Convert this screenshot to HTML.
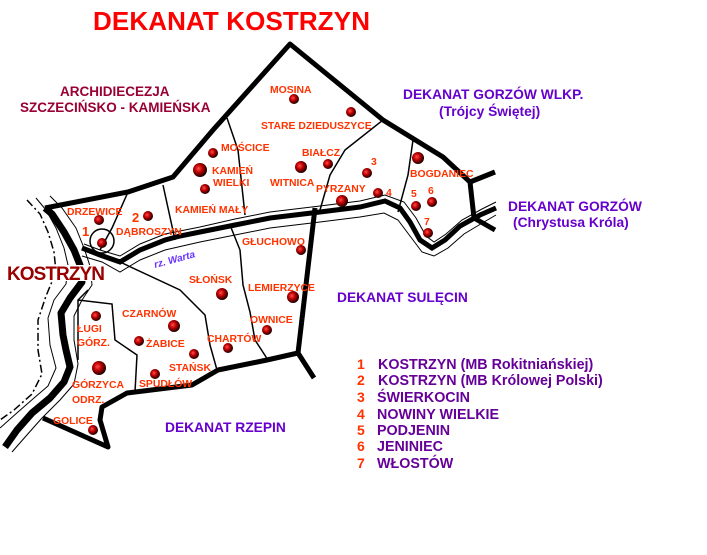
<!DOCTYPE html>
<html><head><meta charset="utf-8"><style>
html,body{margin:0;padding:0;background:#fff;}
svg{display:block;}
text{font-family:"Liberation Sans",Arial,sans-serif;font-weight:bold;}
.o{fill:#ff3300;font-size:10.4px;}
.p{fill:#6600cc;font-size:13.8px;}
.lg{fill:#660099;font-size:14.3px;}
.ln{fill:#ff3300;font-size:14px;}
</style></head><body>
<svg width="707" height="555" viewBox="0 0 707 555" xmlns="http://www.w3.org/2000/svg">
<defs>
<radialGradient id="b" cx="0.4" cy="0.4" r="0.6">
<stop offset="0" stop-color="#ff5050"/><stop offset="0.45" stop-color="#c00000"/><stop offset="1" stop-color="#1a0000"/>
</radialGradient>
</defs>
<!-- titles -->
<text x="93" y="30" fill="#ff0000" style="font-size:26px" textLength="277">DEKANAT KOSTRZYN</text>
<text x="60" y="96" fill="#990033" style="font-size:13.5px">ARCHIDIECEZJA</text>
<text x="20" y="112" fill="#990033" style="font-size:13.5px">SZCZECIŃSKO - KAMIEŃSKA</text>
<text x="403" y="99" class="p">DEKANAT GORZÓW WLKP.</text>
<text x="439" y="116" class="p">(Trójcy Świętej)</text>
<text x="508" y="211" class="p">DEKANAT GORZÓW</text>
<text x="513" y="227" class="p">(Chrystusa Króla)</text>
<text x="337" y="302" class="p">DEKANAT SULĘCIN</text>
<text x="165" y="432" class="p">DEKANAT RZEPIN</text>

<!-- Oder river -->
<g fill="none" stroke="#000" stroke-linejoin="round">
<path d="M45,208 L52,214 L64,232 L74,250 L80,265 L82,282 L70,298 L61,313 L63,335 L66,350 L70,367 L64,382 L50,398 L32,413 L17,430 L5,447" stroke-width="7"/>
<path d="M36,198 L46,210 L56,228 L64,248 L68,265 L66,284 L54,300 L48,318 L50,345 L56,368 L48,386 L34,398 L18,412 L0,428" stroke-width="1"/>
<path d="M50,196 L62,208 L76,228 L84,248 L90,266 L92,285 L82,300 L74,316 L74,340 L78,364 L74,384 L60,400 L42,418 L26,436 L12,452" stroke-width="1"/>
<path d="M27,200 L40,214 L48,232 L54,252 L56,272 L46,296 L38,320 L38,350 L42,374 L32,394 L14,410 L0,420" stroke-width="1.5" stroke-dasharray="8,3,2,3"/>
</g>
<!-- Warta river -->
<g fill="none" stroke="#000">
<path d="M82,248 L100,255 L120,262 L140,250 L165,240 L180,236 L200,232 L235,225 L270,218 L320,212 L360,207 L385,201 L400,208 L410,222 L420,240 L432,248 L445,240 L460,226 L480,215 L496,208" stroke-width="5"/>
<path d="M84,244 L100,250 L120,256 L140,244 L165,234 L200,227 L235,219 L270,212 L320,206 L360,201 L385,195 L404,202 L416,218 L426,236 L434,242 L446,234 L462,220 L482,209 L496,202" stroke-width="1"/>
<path d="M82,256 L102,262 L120,272 L140,260 L165,250 L200,242 L235,235 L270,228 L320,222 L360,217 L384,213 L398,220 L410,236 L422,252 L434,256 L448,248 L464,234 L484,222 L496,215" stroke-width="1"/>
</g>
<text x="155" y="268" transform="rotate(-15 155 268)" fill="#6633ff" style="font-size:10px;font-style:italic">rz. Warta</text>

<!-- thick boundaries -->
<g fill="none" stroke="#000" stroke-width="5" stroke-linejoin="round">
<path d="M45,208 L128,192 L173,177 L213,130 L290,44 L383,120 L443,157 L470,182 L474,218 L495,230"/>
<path d="M470,182 L495,172"/>
<path d="M315,208 L298,353 L314,378"/>
<path d="M298,353 L267,360 L218,370 L192,385 L127,393 L102,407 L100,420 L108,447 L43,418"/>
</g>
<!-- thin boundaries -->
<g fill="none" stroke="#000" stroke-width="1.5">
<path d="M128,192 L112,228 L100,250"/>
<path d="M163,185 L175,240"/>
<path d="M227,118 L238,150 L245,215"/>
<path d="M383,120 L345,150 L330,175 L320,210"/>
<path d="M413,140 L408,175 L398,212"/>
<path d="M230,225 L240,250 L243,285 L250,312 L255,340 L268,360"/>
<path d="M120,262 L180,290 L205,315 L210,345 L217,370"/>
<path d="M78,300 L112,304 L115,340 L137,355 L135,392"/>
<path d="M88,290 L78,300 L78,360"/>
</g>
<circle cx="102" cy="241" r="12" fill="none" stroke="#000" stroke-width="1.5"/>

<rect x="6" y="265" width="100" height="16" fill="#fff"/>
<text x="7" y="280" fill="#990000" style="font-size:19px" textLength="98">KOSTRZYN</text>

<!-- dots -->
<g fill="url(#b)">
<circle cx="294" cy="99" r="5"/><circle cx="351" cy="112" r="5"/>
<circle cx="213" cy="153" r="5"/><circle cx="200" cy="170" r="7"/><circle cx="205" cy="189" r="5"/>
<circle cx="328" cy="164" r="5"/><circle cx="301" cy="167" r="6"/><circle cx="367" cy="173" r="5"/>
<circle cx="378" cy="193" r="5"/><circle cx="342" cy="201" r="6"/><circle cx="418" cy="158" r="6"/>
<circle cx="416" cy="206" r="5"/><circle cx="432" cy="202" r="5"/><circle cx="428" cy="233" r="5"/>
<circle cx="99" cy="220" r="5"/><circle cx="148" cy="216" r="5"/><circle cx="102" cy="243" r="5"/>
<circle cx="301" cy="250" r="5"/><circle cx="222" cy="294" r="6"/><circle cx="293" cy="297" r="6"/>
<circle cx="174" cy="326" r="6"/><circle cx="96" cy="316" r="5"/><circle cx="139" cy="341" r="5"/>
<circle cx="267" cy="330" r="5"/><circle cx="228" cy="348" r="5"/><circle cx="194" cy="354" r="5"/>
<circle cx="155" cy="374" r="5"/><circle cx="99" cy="368" r="7"/><circle cx="93" cy="430" r="5"/>
</g>

<!-- place labels -->
<text x="270" y="93" class="o">MOSINA</text>
<text x="261" y="129" class="o">STARE DZIEDUSZYCE</text>
<text x="221" y="151" class="o">MOŚCICE</text>
<text x="212" y="174" class="o">KAMIEŃ</text>
<text x="213" y="186" class="o">WIELKI</text>
<text x="175" y="213" class="o">KAMIEŃ MAŁY</text>
<text x="302" y="156" class="o">BIAŁCZ</text>
<text x="270" y="186" class="o">WITNICA</text>
<text x="316" y="192" class="o">PYRZANY</text>
<text x="371" y="165" class="o">3</text>
<text x="386" y="196" class="o">4</text>
<text x="410" y="177" class="o">BOGDANIEC</text>
<text x="411" y="197" class="o">5</text>
<text x="428" y="194" class="o">6</text>
<text x="424" y="225" class="o">7</text>
<text x="67" y="215" class="o">DRZEWICE</text>
<text x="132" y="222" style="font-size:13px" fill="#ff3300">2</text>
<text x="116" y="235" class="o">DĄBROSZYN</text>
<text x="82" y="236" style="font-size:13px" fill="#ff3300">1</text>
<text x="242" y="245" class="o">GŁUCHOWO</text>
<text x="189" y="283" class="o">SŁOŃSK</text>
<text x="248" y="291" class="o">LEMIERZYCE</text>
<text x="122" y="317" class="o">CZARNÓW</text>
<text x="77" y="332" class="o">ŁUGI</text>
<text x="77" y="346" class="o">GÓRZ.</text>
<text x="146" y="347" class="o">ŻABICE</text>
<text x="250" y="323" class="o">OWNICE</text>
<text x="207" y="342" class="o">CHARTÓW</text>
<text x="169" y="371" class="o">STAŃSK</text>
<text x="139" y="387" class="o">SPUDŁÓW</text>
<text x="72" y="388" class="o">GÓRZYCA</text>
<text x="72" y="403" class="o">ODRZ.</text>
<text x="53" y="424" class="o">GOLICE</text>

<!-- legend -->
<g>
<text x="357" y="369" class="ln">1</text><text x="378" y="369" class="lg">KOSTRZYN (MB Rokitniańskiej)</text>
<text x="357" y="385" class="ln">2</text><text x="378" y="385" class="lg">KOSTRZYN (MB Królowej Polski)</text>
<text x="357" y="402" class="ln">3</text><text x="377" y="402" class="lg">ŚWIERKOCIN</text>
<text x="357" y="419" class="ln">4</text><text x="377" y="419" class="lg">NOWINY WIELKIE</text>
<text x="357" y="435" class="ln">5</text><text x="377" y="435" class="lg">PODJENIN</text>
<text x="357" y="451" class="ln">6</text><text x="377" y="451" class="lg">JENINIEC</text>
<text x="357" y="468" class="ln">7</text><text x="377" y="468" class="lg">WŁOSTÓW</text>
</g>
</svg>
</body></html>
